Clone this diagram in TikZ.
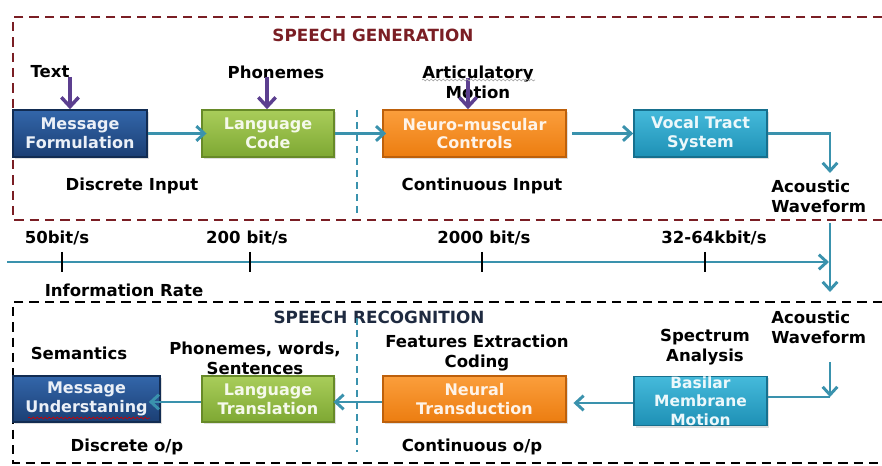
\documentclass[tikz,border=0pt]{standalone}
\usepackage{fontspec}
\setmainfont{DejaVu Sans}
\usetikzlibrary{arrows.meta,decorations.pathmorphing,shadows}

\definecolor{genred}{HTML}{7A1E24}
\definecolor{recnavy}{HTML}{1E2A40}
\definecolor{tealline}{HTML}{3A92AD}
\definecolor{purpline}{HTML}{5C3F8F}
\definecolor{blueA}{HTML}{3366AA}
\definecolor{blueB}{HTML}{1B3F74}
\definecolor{blueE}{HTML}{122C52}
\definecolor{greenA}{HTML}{A9CD5A}
\definecolor{greenB}{HTML}{7EA833}
\definecolor{greenE}{HTML}{678A28}
\definecolor{orangeA}{HTML}{FB9E3C}
\definecolor{orangeB}{HTML}{EC7D10}
\definecolor{orangeE}{HTML}{BD600B}
\definecolor{cyanA}{HTML}{45BADB}
\definecolor{cyanB}{HTML}{1E90B5}
\definecolor{cyanE}{HTML}{17708E}

\tikzset{
  lbl/.style={inner sep=0pt, font=\fontsize{12.4}{15}\selectfont\bfseries, align=center},
  ttl/.style={inner sep=0pt, font=\fontsize{12.6}{15}\selectfont\bfseries},
  mkbox/.style={rectangle, minimum height=35.25pt, text=white, align=center,
    inner sep=1pt, line width=1.2pt,
    font=\fontsize{12}{14}\selectfont\bfseries,
    drop shadow={opacity=0.25, shadow xshift=1.5pt, shadow yshift=-1.5pt}},
  bluebox/.style={mkbox, draw=blueE, top color=blueA, bottom color=blueB, text=white!90!blueA},
  greenbox/.style={mkbox, draw=greenE, top color=greenA, bottom color=greenB, text=white!88!greenA},
  orangebox/.style={mkbox, draw=orangeE, top color=orangeA, bottom color=orangeB, text=white!88!orangeA},
  cyanbox/.style={mkbox, draw=cyanE, top color=cyanA, bottom color=cyanB, text=white!90!cyanA},
  tline/.style={draw=tealline, line width=2.2pt},
  tarrow/.style={tline, -{Straight Barb[length=6pt,width=11pt,line width=2.2pt]}},
  parrow/.style={draw=purpline, line width=2.8pt, -{Straight Barb[length=7pt,width=13pt,line width=2.6pt]}},
  gendash/.style={draw=genred, line width=1.6pt, dash pattern=on 7pt off 4.5pt},
  recdash/.style={draw=black, line width=1.4pt, dash pattern=on 7pt off 4.5pt},
  divdash/.style={draw=tealline, line width=1.6pt, dash pattern=on 5pt off 4pt},
  tick/.style={draw=black, line width=1.4pt},
  squig/.style={decorate, decoration={snake, amplitude=0.7pt, segment length=3pt}, line width=0.5pt}
}

\begin{document}
\begin{tikzpicture}[x=0.75pt,y=-0.75pt]
\useasboundingbox (0,0) rectangle (882,466);

% ---------- speech generation frame ----------
\draw[gendash] (882,17) -- (13,17) -- (13,220) -- (882,220);
\node[ttl, text=genred] (gentitle) at (373,35) {SPEECH GENERATION};

\draw[divdash] (357,110) -- (357,214);

\node[bluebox, minimum width=100.5pt] (mf) at (80,133.5) {Message\\Formulation};
\node[greenbox, minimum width=99pt] (lc) at (268,133.5) {Language\\Code};
\node[orangebox, minimum width=137.25pt] (nm) at (474.5,133.5) {Neuro-muscular\\Controls};
\node[cyanbox, minimum width=99.75pt] (vt) at (700.5,133.5) {Vocal Tract\\System};

\node[lbl] (txt) at (50,72) {Text};
\node[lbl] (phon) at (276,72) {Phonemes};
\node[lbl] (artic) at (478,82) {Articulatory\\Motion};

\coordinate (txtstart) at (70,77);
\coordinate (phonstart) at (267,77);
\coordinate (articstart) at (468,78);
\draw[parrow] (txtstart) -- (txtstart |- mf.north);
\draw[parrow] (phonstart) -- (phonstart |- lc.north);
\draw[parrow] (articstart) -- (articstart |- nm.north);
\draw[squig, draw=gray!70] (422,80) -- (535,80);

\draw[tarrow] (mf.east) -- ([xshift=4pt]lc.west);
\draw[tarrow] (lc.east) -- ([xshift=3pt]nm.west);
\draw[tarrow] ([xshift=4pt]nm.east) -- (vt.west);
\coordinate (awtopend) at (830,173);
\draw[tarrow] (vt.east) -| (awtopend);

\node[lbl] (discin) at (132,186) {Discrete Input};
\node[lbl] (contin) at (482,186) {Continuous Input};
\node[lbl, align=left, anchor=west] (awtop) at (771,196) {Acoustic\\Waveform};

% ---------- information rate axis ----------
\node[lbl] (r50) at (57,238) {50bit/s};
\node[lbl] (r200) at (247,238) {200 bit/s};
\node[lbl] (r2000) at (484,238) {2000 bit/s};
\node[lbl] (r3264) at (714,238) {32-64kbit/s};
\coordinate (axstart) at (7,262);
\coordinate (axend) at (829,262);
\draw[tarrow] (axstart) -- (axend);
\foreach \tx in {62,250,482,705} {
  \draw[tick] (\tx,252) -- (\tx,272);
}
\coordinate (vdown0) at (830,223);
\coordinate (vdown1) at (830,292);
\draw[tarrow] (vdown0) -- (vdown1);
\node[lbl] (inforate) at (124,290) {Information Rate};

% ---------- speech recognition frame ----------
\draw[recdash] (882,302) -- (13,302) -- (13,463) -- (882,463);
\node[ttl, text=recnavy] (rectitle) at (379,317) {SPEECH RECOGNITION};

\draw[divdash] (357,318) -- (357,452);

\node[bluebox, minimum width=110.25pt, minimum height=34.5pt] (mu) at (86.5,399) {Message\\Understaning};
\node[greenbox, minimum width=99pt, minimum height=34.5pt] (lt) at (268,399) {Language\\Translation};
\node[orangebox, minimum width=137.25pt, minimum height=34.5pt] (nt) at (474.5,399) {Neural\\Transduction};
\node[cyanbox, minimum width=99.75pt, minimum height=34.5pt, inner sep=0pt,
      font=\fontsize{11.6}{13.9}\selectfont\bfseries] (bm) at (700.5,401) {Basilar\\Membrane\\Motion};
\draw[squig, draw=red!80!black] (28,418) -- (150,418);

\node[lbl] (sem) at (79,353) {Semantics};
\node[lbl] (pws) at (255,358) {Phonemes, words,\\Sentences};
\node[lbl] (fec) at (477,353) {Features Extraction\\Coding};
\node[lbl] (spec) at (705,347) {Spectrum\\Analysis};
\node[lbl, align=left, anchor=west] (awbot) at (771,327) {Acoustic\\Waveform};

\coordinate (awbotstart) at (830,362);
\coordinate (awcorner) at (830,397);
\draw[tarrow] (awbotstart) -- (awcorner);
\draw[tline] (awcorner) -- (bm.east |- awcorner);
\draw[tarrow] (bm.west |- 0,403) -- ([xshift=5pt]nt.east |- 0,403);
\draw[tarrow] (nt.west |- 0,402) -- ([xshift=-1pt]lt.east |- 0,402);
\draw[tarrow] (lt.west |- 0,402) -- ([xshift=-9pt]mu.east |- 0,402);

\node[lbl] (discout) at (127,447) {Discrete o/p};
\node[lbl] (contout) at (472,447) {Continuous o/p};
\end{tikzpicture}
\end{document}
